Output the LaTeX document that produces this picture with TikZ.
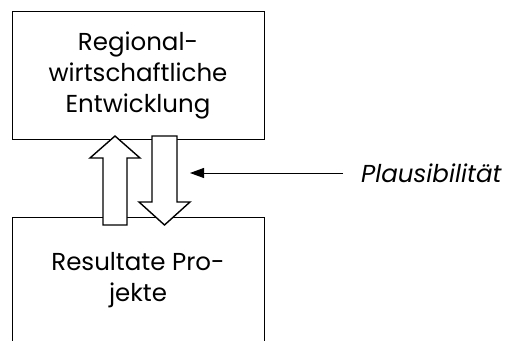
\documentclass[tikz,border=0pt]{standalone}
\usepackage{fontspec}
\setmainfont{Poppins}
\usetikzlibrary{arrows.meta}
\begin{document}
\begin{tikzpicture}[x=1pt,y=1pt,
  box/.style={draw, line width=0.8pt},
  fat/.style={draw, line width=1.4pt, fill=white, line join=miter},
  lbl/.style={font=\fontsize{24.5}{31}\selectfont, align=center, inner sep=0pt}]
\useasboundingbox (0,0) rectangle (505,340);
\begin{scope}
\clip (0,0) rectangle (505,340);
\draw[box] (12,201) rectangle (264,329);
\draw[box] (12,-5) rectangle (264,123);
\end{scope}
\node[lbl] (top) at (138,265) {Regional-\\wirtschaftliche\\Entwicklung};
\node[lbl] (bot) at (138,60) {Resultate Pro-\\jekte};
\draw[fat] (103,115) -- (127,115) -- (127,182) -- (140,182) -- (115,204) -- (90,182) -- (103,182) -- cycle;
\draw[fat] (152,204) -- (177,204) -- (177,138) -- (190,138) -- (164.5,115) -- (139,138) -- (152,138) -- cycle;
\node[lbl, font=\fontsize{24.5}{31}\selectfont\itshape, anchor=west] (pl) at (361,167) {Plausibilität};
\coordinate (tip) at (190,167);
\draw[line width=0.9pt, -{Triangle[length=14pt,width=10pt]}] ([xshift=-18pt]pl.west) -- (tip);
\end{tikzpicture}
\end{document}
